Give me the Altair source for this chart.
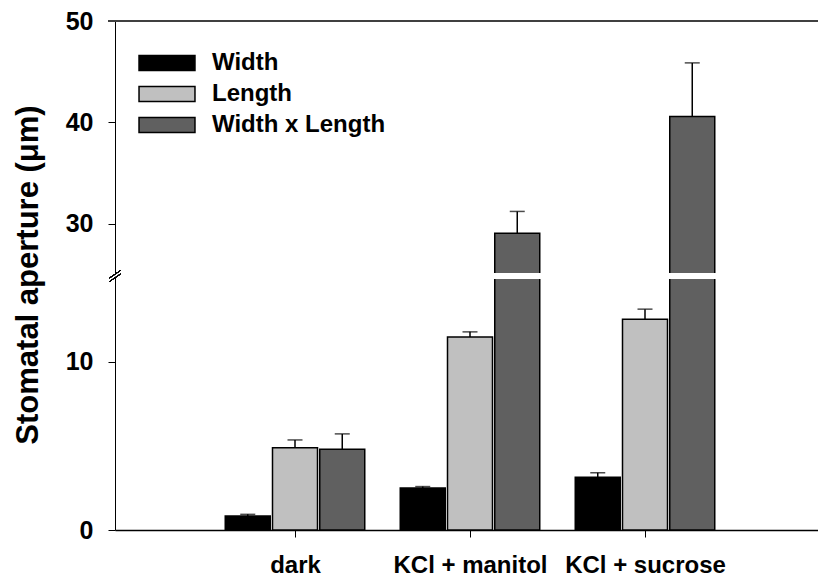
import altair as alt
import pandas as pd

# Treatments on the x axis and the three measured quantities
categories = ["dark", "KCl + manitol", "KCl + sucrose"]
series = ["Width", "Length", "Width x Length"]
series_colors = ["#000000", "#c0c0c0", "#606060"]

# Means and standard errors (µm) per treatment
width_mean = [0.83, 2.49, 3.14]
width_err = [0.10, 0.09, 0.26]
length_mean = [4.89, 11.47, 12.52]
length_err = [0.46, 0.30, 0.60]
wxl_mean = [4.79, 29.08, 40.59]
wxl_err = [0.92, 2.14, 5.28]

# Broken y axis: lower segment 0-15, upper segment 25-50
LOW_DOMAIN = [0, 15]
HIGH_DOMAIN = [25, 50]

W, H = 703, 509
LOW_RANGE = [H, 256.5]
HIGH_RANGE = [253.5, 0]
BAR_STEP = 0.27
FONT = "Liberation Sans"

rows = []
for ci, cat in enumerate(categories):
    for si, (name, means, errs) in enumerate(
        zip(series, [width_mean, length_mean, wxl_mean], [width_err, length_err, wxl_err])
    ):
        rows.append(
            {
                "category": cat,
                "series": name,
                "xpos": ci + 1 + (si - 1) * BAR_STEP,
                "mean": means[ci],
                "top": means[ci] + errs[ci],
            }
        )
df = pd.DataFrame(rows)

label_expr = "[" + ",".join("'" + c + "'" for c in categories) + "][datum.value - 1]"

x_enc = alt.X(
    "xpos:Q",
    scale=alt.Scale(domain=[0, 3.96], nice=False, zero=False),
    axis=alt.Axis(
        values=[1, 2, 3],
        labelExpr=label_expr,
        title=None,
        grid=False,
        tickSize=7,
        tickColor="black",
        domainColor="black",
        domainWidth=1.5,
        labelFontSize=24,
        labelPadding=16,
        labelAngle=0,
    ),
)

legend = alt.Legend(
    title=None,
    orient="none",
    legendX=40,
    legendY=30,
    symbolType="M-3.73,-1L3.73,-1L3.73,1L-3.73,1Z",
    symbolSize=225,
    symbolStrokeColor="black",
    symbolStrokeWidth=1.5,
    labelFontSize=24,
    labelOffset=33,
    labelLimit=0,
    rowPadding=7,
    padding=0,
)

color_enc = alt.Color(
    "series:N",
    scale=alt.Scale(domain=series, range=series_colors),
    sort=series,
    legend=legend,
)

low_scale = alt.Scale(domain=LOW_DOMAIN, range=LOW_RANGE, clamp=True, nice=False, zero=False)
high_scale = alt.Scale(domain=HIGH_DOMAIN, range=HIGH_RANGE, clamp=True, nice=False, zero=False)

axis_common = dict(
    grid=False,
    orient="left",
    tickSize=7,
    tickColor="black",
    domainColor="black",
    labelFontSize=25,
    labelPadding=15,
)

low_axis = alt.Axis(
    values=[0, 10],
    title="Stomatal aperture (μm)",
    titleFontSize=31,
    titleX=-78,
    titleY=253.5,
    titleAngle=-90,
    titleBaseline="alphabetic",
    titleAlign="center",
    **axis_common,
)
high_axis = alt.Axis(values=[30, 40, 50], title=None, **axis_common)

base = alt.Chart(df)

# Lower segment: every bar, clamped at the top of the segment
low_bars = base.mark_bar(size=45, stroke="black", strokeWidth=1.5).encode(
    x=x_enc,
    y=alt.Y("mean:Q", scale=low_scale, axis=low_axis),
    color=color_enc,
)
low_err = base.transform_filter(f"datum.top <= {LOW_DOMAIN[1]}").mark_rule(
    color="black", strokeWidth=1.5
).encode(x=x_enc, y=alt.Y("mean:Q", scale=low_scale, axis=low_axis), y2="top:Q")
low_cap = base.transform_filter(f"datum.top <= {LOW_DOMAIN[1]}").mark_tick(
    orient="horizontal", size=15, thickness=1.5, color="black"
).encode(x=x_enc, y=alt.Y("top:Q", scale=low_scale, axis=low_axis))
lower = alt.layer(low_bars, low_err, low_cap)

# Upper segment: only the bars that reach above the break
high_base = base.transform_filter(f"datum.mean > {HIGH_DOMAIN[0]}")
high_bars = high_base.mark_bar(size=45, stroke="black", strokeWidth=1.5).encode(
    x=x_enc,
    y=alt.Y("mean:Q", scale=high_scale, axis=high_axis),
    color=color_enc,
)
high_err = high_base.mark_rule(color="black", strokeWidth=1.5).encode(
    x=x_enc, y=alt.Y("mean:Q", scale=high_scale, axis=high_axis), y2="top:Q"
)
high_cap = high_base.mark_tick(
    orient="horizontal", size=15, thickness=1.5, color="black"
).encode(x=x_enc, y=alt.Y("top:Q", scale=high_scale, axis=high_axis))
upper = alt.layer(high_bars, high_err, high_cap)

# White band separating the two segments of the broken bars
gap = alt.Chart(df).mark_rect(color="white").encode(
    x=alt.value(1), x2=alt.value(W), y=alt.value(252.6), y2=alt.value(257.4)
)

# Frame line along the top of the plot
top_line = alt.Chart(df).mark_rule(color="#404040", strokeWidth=2).encode(
    x=alt.value(-7), x2=alt.value(W), y=alt.value(0)
)

# Axis break marks
break_white = alt.Chart(df).mark_rule(color="white", strokeWidth=3).encode(
    x=alt.value(-5), x2=alt.value(5), y=alt.value(258.5), y2=alt.value(251.5)
)
break_a = alt.Chart(df).mark_rule(color="black", strokeWidth=1).encode(
    x=alt.value(-5.5), x2=alt.value(5.5), y=alt.value(257), y2=alt.value(249.5)
)
break_b = alt.Chart(df).mark_rule(color="black", strokeWidth=1).encode(
    x=alt.value(-5.5), x2=alt.value(5.5), y=alt.value(260.5), y2=alt.value(253)
)

chart = (
    alt.layer(lower, upper, gap, top_line, break_white, break_a, break_b)
    .resolve_scale(y="independent")
    .properties(
        width=W,
        height=H,
        autosize=alt.AutoSizeParams(type="none"),
        padding={"left": 115, "top": 21, "right": 0, "bottom": 49},
    )
    .configure_view(stroke=None)
    .configure_axis(labelFont=FONT, labelFontWeight="bold", titleFont=FONT, titleFontWeight="bold",
                    labelColor="black", titleColor="black")
    .configure_legend(labelFont=FONT, labelFontWeight="bold", labelColor="black")
)

chart.save("out.html", embed_options={"renderer": "svg", "actions": False})
